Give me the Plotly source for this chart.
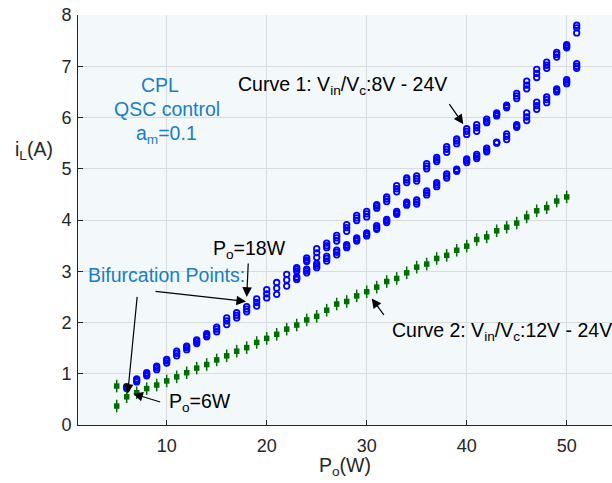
import plotly.graph_objects as go

# ---------------- data ----------------
# Curve 1 (Vin/Vc: 8V - 24V), blue circles; each Po has a vertical stack of points
c1_upper_x = list(range(6, 52))
c1_upper_lo = [0.71, 0.84, 0.96, 1.08, 1.21, 1.35, 1.47, 1.59, 1.72, 1.82, 1.96, 2.09, 2.21, 2.32, 2.48, 2.55,
               2.71, 3.00, 3.19, 3.27, 3.46, 3.59, 3.78, 3.99, 4.06, 4.23, 4.36, 4.55, 4.73, 4.76, 5.00, 5.14,
               5.32, 5.49, 5.67, 5.73, 5.90, 6.03, 6.19, 6.37, 6.56, 6.78, 6.96, 7.18, 7.36, 7.65]
c1_upper_mid = [0.73, 0.87, 0.99, 1.12, 1.25, 1.40, 1.51, 1.63, 1.75, 1.87, 2.03, 2.14, 2.26, 2.39, 2.56, 2.67,
                2.83, 3.04, 3.22, 3.36, 3.50, 3.65, 3.85, 4.04, 4.12, 4.27, 4.41, 4.61, 4.78, 4.81, 5.05, 5.18,
                5.38, 5.54, 5.73, 5.80, 5.93, 6.06, 6.22, 6.42, 6.63, 6.86, 7.02, 7.23, 7.39, 7.75]
c1_upper_hi = [0.75, 0.90, 1.02, 1.15, 1.28, 1.44, 1.54, 1.66, 1.78, 1.91, 2.09, 2.19, 2.31, 2.46, 2.64, 2.78,
               2.94, 3.07, 3.26, 3.44, 3.55, 3.70, 3.91, 4.09, 4.17, 4.30, 4.45, 4.67, 4.82, 4.86, 5.10, 5.22,
               5.43, 5.58, 5.78, 5.86, 5.97, 6.09, 6.24, 6.47, 6.71, 6.94, 7.08, 7.27, 7.42, 7.80]

c1_lower_x = list(range(23, 52))
c1_lower_lo = [2.84, 2.97, 3.07, 3.20, 3.32, 3.46, 3.59, 3.69, 3.82, 3.95, 4.11, 4.29, 4.31, 4.49, 4.65, 4.82,
               4.95, 5.12, 5.20, 5.33, 5.50, 5.57, 5.81, 5.94, 6.16, 6.29, 6.50, 6.66, 6.96]
c1_lower_mid = [2.87, 3.01, 3.11, 3.25, 3.37, 3.49, 3.62, 3.72, 3.85, 3.98, 4.14, 4.32, 4.35, 4.53, 4.69, 4.86,
                4.97, 5.16, 5.24, 5.36, 5.51, 5.63, 5.83, 6.01, 6.23, 6.35, 6.53, 6.70, 7.00]
c1_lower_hi = [2.89, 3.04, 3.15, 3.29, 3.41, 3.52, 3.65, 3.75, 3.89, 4.01, 4.17, 4.35, 4.39, 4.57, 4.73, 4.90,
               4.99, 5.19, 5.28, 5.40, 5.52, 5.68, 5.86, 6.09, 6.30, 6.40, 6.56, 6.74, 7.05]

# Curve 2 (Vin/Vc: 12V - 24V), green crosses
c2_x = [5] + list(range(5, 51))
c2_y = [0.76, 0.37, 0.55, 0.63, 0.71, 0.78, 0.86, 0.94, 1.02, 1.11, 1.18, 1.27, 1.35, 1.44, 1.51, 1.61, 1.69,
        1.77, 1.87, 1.95, 2.05, 2.12, 2.24, 2.36, 2.41, 2.52, 2.60, 2.69, 2.80, 2.86, 2.97, 3.08, 3.14, 3.25,
        3.31, 3.41, 3.49, 3.62, 3.67, 3.79, 3.86, 3.94, 4.06, 4.18, 4.24, 4.37, 4.45]

x_ticks = [10, 20, 30, 40, 50]
y_ticks = [0, 1, 2, 3, 4, 5, 6, 7, 8]

# ---------------- style ----------------
FONT = "Liberation Sans, Arial, sans-serif"
BLUE = "#0000ff"
GREEN = "#006e00"
TXTBLUE = "#1a7ec4"
AXC = "#262626"
FS = 19.5

fig = go.Figure()

for xs, ys in [(c1_upper_x, c1_upper_lo), (c1_upper_x, c1_upper_mid), (c1_upper_x, c1_upper_hi),
               (c1_lower_x, c1_lower_lo), (c1_lower_x, c1_lower_mid), (c1_lower_x, c1_lower_hi)]:
    fig.add_trace(go.Scatter(x=xs, y=ys, mode="markers", showlegend=False, hoverinfo="skip",
                             marker=dict(symbol="circle-open", size=5.5, color=BLUE,
                                         line=dict(color=BLUE, width=1.8))))

fig.add_trace(go.Scatter(x=c2_x, y=c2_y, mode="markers", showlegend=False, hoverinfo="skip",
                         marker=dict(symbol="line-ns", size=9, color=GREEN,
                                     line=dict(color=GREEN, width=1.5))))
fig.add_trace(go.Scatter(x=c2_x, y=c2_y, mode="markers", showlegend=False, hoverinfo="skip",
                         marker=dict(symbol="square", size=5.5, color=GREEN,
                                     line=dict(width=0))))

ann = []
def txt(x, y, s, color="black", xanchor="center", size=FS):
    ann.append(dict(x=x, y=y, xref="x", yref="y", text=s, showarrow=False,
                    xanchor=xanchor, yanchor="middle",
                    font=dict(family=FONT, size=size, color=color)))

def arrow(xh, yh, xt, yt):
    ann.append(dict(x=xh, y=yh, ax=xt, ay=yt, xref="x", yref="y", axref="x", ayref="y",
                    text="", showarrow=True, arrowhead=2, arrowsize=1.6, arrowwidth=1.2,
                    arrowcolor="black", standoff=0, startstandoff=0))

txt(9.3, 6.63, "CPL", TXTBLUE)
txt(10.0, 6.16, "QSC control", TXTBLUE)
txt(10.0, 5.67, "a<sub>m</sub>=0.1", TXTBLUE)

txt(16.9, 6.62, "Curve 1: V<sub>in</sub>/V<sub>c</sub>:8V - 24V", xanchor="left")
arrow(39.66, 5.87, 38.16, 6.29)

txt(32.3, 1.83, "Curve 2: V<sub>in</sub>/V<sub>c</sub>:12V - 24V", xanchor="left")
arrow(30.5, 2.47, 31.83, 2.12)

txt(18.3, 3.42, "P<sub>o</sub>=18W")
arrow(18.0, 2.50, 18.16, 3.18)

txt(10.0, 2.93, "Bifurcation Points:", TXTBLUE)
arrow(17.93, 2.41, 8.73, 2.61)
arrow(6.1, 0.61, 7.06, 2.53)

txt(10.0, 0.44, "P<sub>o</sub>=6W", xanchor="left")
arrow(6.66, 0.61, 9.5, 0.44)

fig.update_layout(
    width=612, height=483,
    margin=dict(l=78, r=0, t=15, b=58),
    paper_bgcolor="white", plot_bgcolor="#f3f8fb",
    font=dict(family=FONT, size=18, color=AXC),
    xaxis=dict(range=[1.13, 54.53], tickvals=x_ticks, ticks="inside", ticklen=5, tickcolor=AXC,
               showline=True, linecolor=AXC, linewidth=1, mirror=False,
               showgrid=True, gridcolor="#d8dcdf", gridwidth=1, zeroline=False,
               ticklabelstandoff=4, tickfont=dict(size=18, color=AXC)),
    yaxis=dict(range=[0, 8], tickvals=y_ticks, ticks="inside", ticklen=5, tickcolor=AXC,
               showline=True, linecolor=AXC, linewidth=1, mirror=False,
               showgrid=True, gridcolor="#d8dcdf", gridwidth=1, zeroline=False,
               ticklabelstandoff=2, tickfont=dict(size=18, color=AXC)),
    annotations=ann + [
        dict(x=-0.083, y=0.67, xref="paper", yref="paper", text="i<sub>L</sub>(A)", showarrow=False,
             xanchor="center", yanchor="middle", font=dict(family=FONT, size=FS, color=AXC)),
        dict(x=0.5, y=-0.1, xref="paper", yref="paper", text="P<sub>o</sub>(W)", showarrow=False,
             xanchor="center", yanchor="middle", font=dict(family=FONT, size=FS, color=AXC)),
    ],
)

fig.write_html("out.html", config={"displayModeBar": False},
               post_script="document.body.style.margin='0';")
